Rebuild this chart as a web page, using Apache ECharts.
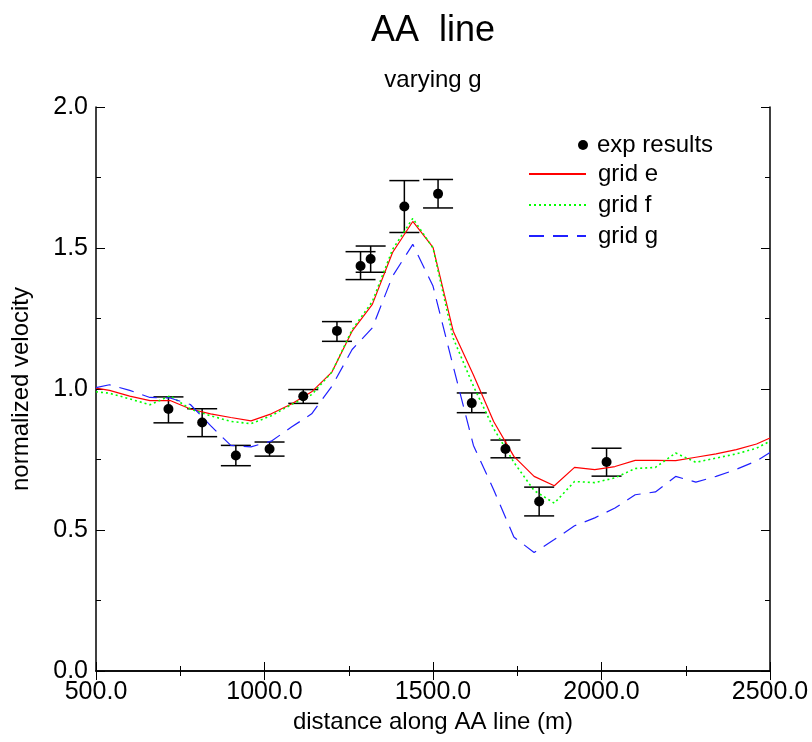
<!DOCTYPE html>
<html>
<head>
<meta charset="utf-8">
<script src="https://cdn.jsdelivr.net/npm/echarts@6/dist/echarts.min.js"></script>
<style>
  html, body { margin: 0; padding: 0; background: #fff; }
  #chart { width: 812px; height: 742px; }
</style>
</head>
<body>
<div id="chart"></div>
<script>
// measured points with error bars
const expX = [715, 815, 915, 1015, 1115, 1215, 1285, 1315, 1415, 1515, 1615, 1715, 1815, 2015];
const expY = [0.929, 0.881, 0.764, 0.787, 0.974, 1.206, 1.436, 1.461, 1.647, 1.692, 0.950, 0.787, 0.601, 0.741];
const expLow = [0.880, 0.831, 0.728, 0.762, 0.949, 1.169, 1.388, 1.414, 1.555, 1.642, 0.916, 0.756, 0.550, 0.691];
const expHigh = [0.972, 0.930, 0.800, 0.812, 0.998, 1.239, 1.487, 1.507, 1.739, 1.743, 0.986, 0.819, 0.652, 0.790];

// model results along the line
const gridX = [500, 540, 600, 660, 720, 780, 840, 900, 960, 1020, 1080, 1140, 1200, 1260, 1320, 1380, 1440,
  1500, 1560, 1620, 1680, 1740, 1800, 1860, 1920, 1980, 2040, 2100, 2160, 2220, 2280, 2340, 2400, 2460, 2500];
const gridE = [1.003, 0.995, 0.975, 0.959, 0.959, 0.929, 0.912, 0.899, 0.887, 0.912, 0.947, 0.990, 1.060, 1.205,
  1.300, 1.484, 1.594, 1.502, 1.205, 1.050, 0.885, 0.761, 0.690, 0.657, 0.722, 0.714, 0.725, 0.747, 0.747,
  0.746, 0.758, 0.770, 0.785, 0.805, 0.826];
const gridF = [0.990, 0.985, 0.965, 0.944, 0.976, 0.929, 0.905, 0.885, 0.877, 0.905, 0.945, 0.980, 1.060, 1.210,
  1.310, 1.495, 1.605, 1.500, 1.180, 1.010, 0.860, 0.740, 0.640, 0.595, 0.672, 0.668, 0.685, 0.718, 0.722,
  0.773, 0.740, 0.755, 0.770, 0.790, 0.815];
const gridG = [1.005, 1.015, 0.995, 0.970, 0.968, 0.945, 0.870, 0.800, 0.795, 0.815, 0.865, 0.912, 1.010, 1.140,
  1.217, 1.400, 1.513, 1.365, 1.080, 0.800, 0.643, 0.475, 0.420, 0.466, 0.515, 0.543, 0.578, 0.625, 0.635,
  0.690, 0.670, 0.690, 0.715, 0.745, 0.775];

const xTicks = { min: 500, max: 2500, interval: 500 };
const yTicks = { min: 0, max: 2, interval: 0.5 };

const FONT = 'Liberation Sans, Arial, Helvetica, sans-serif';

const zip = (xs, ys) => xs.map((x, i) => [x, ys[i]]);

const chart = echarts.init(document.getElementById('chart'));

// shared frame axis settings (ticks on every side, pointing in)
const frameAxis = (extra) => Object.assign({
  type: 'value',
  axisLine: { show: true, lineStyle: { color: '#000', width: 1.5 } },
  axisTick: { show: true, inside: true, length: 9, lineStyle: { color: '#000', width: 1 } },
  minorTick: { show: true, splitNumber: 2, length: 5, lineStyle: { color: '#000', width: 1 } },
  splitLine: { show: false },
  minorSplitLine: { show: false }
}, extra);

const option = {
  animation: false,
  backgroundColor: '#fff',
  title: [
    {
      text: 'AA  line',
      left: 428,
      top: 8,
      textAlign: 'center',
      textStyle: { fontFamily: FONT, fontSize: 36, fontWeight: 'normal', color: '#000' }
    },
    {
      text: 'varying g',
      left: 428,
      top: 63,
      textAlign: 'center',
      textStyle: { fontFamily: FONT, fontSize: 24, fontWeight: 'normal', color: '#000' }
    }
  ],
  legend: [
    {
      data: ['exp results'],
      orient: 'vertical',
      left: 578,
      top: 133,
      padding: 0,
      icon: 'circle',
      itemWidth: 10,
      itemHeight: 10,
      itemStyle: { color: '#000', opacity: 1 },
      textStyle: { fontFamily: FONT, fontSize: 24, color: '#000', lineHeight: 20, padding: [0, 0, 0, 4] }
    },
    {
      data: ['grid e', 'grid f', 'grid g'],
      orient: 'vertical',
      left: 528,
      top: 162,
      padding: 0,
      itemWidth: 57,
      itemHeight: 14,
      itemGap: 7,
      itemStyle: { opacity: 0 },
      textStyle: { fontFamily: FONT, fontSize: 24, color: '#000', lineHeight: 20, padding: [0, 0, 0, 7] }
    }
  ],
  grid: { left: 96, right: 42, top: 107, bottom: 71, containLabel: false },
  xAxis: [
    frameAxis(Object.assign({
      position: 'bottom',
      name: 'distance along AA line (m)',
      nameLocation: 'middle',
      nameGap: 37,
      nameTextStyle: { fontFamily: FONT, fontSize: 24, color: '#000', verticalAlign: 'top' },
      axisLabel: {
        fontFamily: FONT, fontSize: 25, color: '#000', margin: 9,
        formatter: (v) => v.toFixed(1)
      }
    }, xTicks)),
    frameAxis(Object.assign({ position: 'top', axisLabel: { show: false } }, xTicks))
  ],
  yAxis: [
    frameAxis(Object.assign({
      position: 'left',
      name: 'normalized velocity',
      nameLocation: 'middle',
      nameGap: 63,
      nameTextStyle: { fontFamily: FONT, fontSize: 24, color: '#000' },
      axisLabel: {
        fontFamily: FONT, fontSize: 25, color: '#000', margin: 8,
        formatter: (v) => v.toFixed(1)
      }
    }, yTicks)),
    frameAxis(Object.assign({ position: 'right', axisLabel: { show: false } }, yTicks))
  ],
  series: [
    {
      name: 'error bars',
      type: 'custom',
      xAxisIndex: 0,
      yAxisIndex: 0,
      data: expX.map((x, i) => [x, expLow[i], expHigh[i]]),
      encode: { x: 0, y: [1, 2] },
      renderItem: (params, api) => {
        const x = api.value(0);
        const top = api.coord([x, api.value(2)]);
        const bot = api.coord([x, api.value(1)]);
        const hw = 15;
        const st = { stroke: '#000', lineWidth: 1.5 };
        return {
          type: 'group',
          children: [
            { type: 'line', shape: { x1: top[0], y1: top[1], x2: bot[0], y2: bot[1] }, style: st },
            { type: 'line', shape: { x1: top[0] - hw, y1: top[1], x2: top[0] + hw, y2: top[1] }, style: st },
            { type: 'line', shape: { x1: bot[0] - hw, y1: bot[1], x2: bot[0] + hw, y2: bot[1] }, style: st }
          ]
        };
      },
      z: 3
    },
    {
      name: 'exp results',
      type: 'scatter',
      data: zip(expX, expY),
      symbol: 'circle',
      symbolSize: 10,
      itemStyle: { color: '#000', opacity: 1 },
      z: 5
    },
    {
      name: 'grid e',
      type: 'line',
      data: zip(gridX, gridE),
      symbol: 'none',
      lineStyle: { color: '#ff0000', width: 1.2, type: 'solid' },
      itemStyle: { color: '#ff0000' },
      z: 4
    },
    {
      name: 'grid f',
      type: 'line',
      data: zip(gridX, gridF),
      symbol: 'none',
      lineStyle: { color: '#00ff00', width: 1.6, type: [2, 3] },
      itemStyle: { color: '#00ff00' },
      z: 4
    },
    {
      name: 'grid g',
      type: 'line',
      data: zip(gridX, gridG),
      symbol: 'none',
      lineStyle: { color: '#2020ff', width: 1.2, type: [15, 9] },
      itemStyle: { color: '#2020ff' },
      z: 4
    }
  ]
};

chart.setOption(option);
</script>
</body>
</html>
